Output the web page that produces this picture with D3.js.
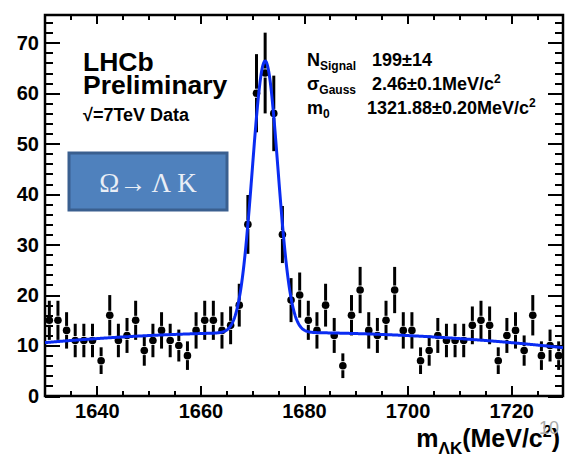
<!DOCTYPE html>
<html>
<head>
<meta charset="utf-8">
<script src="https://cdn.jsdelivr.net/npm/d3@7"></script>
<style>
  body { margin: 0; background: #fff; }
  svg { display: block; }
  .axis path, .axis line { stroke: #000; stroke-width: 2; shape-rendering: crispEdges; }
  .axis text { font-family: "Liberation Sans", Arial, sans-serif; font-weight: bold; font-size: 20px; fill: #000; }
</style>
</head>
<body>
<script>
// Histogram of m(ΛK): 60 bins from 1630 to 1730 MeV/c²
const massLow = 1630;
const massHigh = 1730;
const binCount = 60;
const counts = [15, 15, 13, 11, 11, 11, 7, 16, 11, 12,
                15, 9, 11, 13, 11, 10, 8, 13, 15, 15,
                13, 14, 18, 34, 60, 64, 56, 32, 19, 20,
                15, 13, 18, 12, 6, 16, 21, 13, 12, 15,
                21, 13, 13, 7, 9, 12, 11, 11, 11, 14,
                15, 14, 7, 12, 13, 9, 16, 8, 10, 8];

// Axis ticks
const xTicks = [1640, 1660, 1680, 1700, 1720];
const yTicks = [0, 10, 20, 30, 40, 50, 60, 70];

// Fit model: Gaussian signal plus quadratic background
const sigYield = 199;
const sigWidth = 2.46;
const sigMean = 1672.5;
const bgPivot = 1675;
const bgCoef = [12.6, 0, -0.001];

// Fit result lines
const fitLines = [
  { sym: "N", sub: "Signal", val: "199±14", sup: "" },
  { sym: "σ", sub: "Gauss", val: "2.46±0.1MeV/c", sup: "2" },
  { sym: "m", sub: "0", val: "1321.88±0.20MeV/c", sup: "2" }
];

const W = 565, H = 459;
const svg = d3.select("body").append("svg").attr("width", W).attr("height", H);
svg.append("rect").attr("width", W).attr("height", H).attr("fill", "#fff");

const x = d3.scaleLinear().domain([massLow, massHigh]).range([45, 563]);
const y = d3.scaleLinear().domain([0, 75.5]).range([396, 15]);

const binWidth = (massHigh - massLow) / binCount;
const bins = counts.map((c, i) => ({ m: massLow + (i + 0.5) * binWidth, n: c, e: Math.sqrt(c) }));

const xMinor = d3.range(1635, 1730, 5).filter(v => v % 20 !== 0);
const yMinor = d3.range(2, 76, 2).filter(v => v % 10 !== 0);

function styleAxis(g) { g.attr("class", "axis"); g.select(".domain").remove(); }

// bottom axis
svg.append("g").attr("transform", `translate(0,${y(0)})`)
  .call(d3.axisBottom(x).tickValues(xMinor).tickSizeInner(-5).tickSizeOuter(0).tickFormat(""))
  .call(styleAxis);
svg.append("g").attr("transform", `translate(0,${y(0)})`)
  .call(d3.axisBottom(x).tickValues(xTicks).tickSizeInner(-10).tickSizeOuter(0).tickPadding(8).tickFormat(d3.format("d")))
  .call(styleAxis);
// top axis (ticks only)
svg.append("g").attr("transform", `translate(0,${y.range()[1]})`)
  .call(d3.axisTop(x).tickValues(xMinor).tickSizeInner(-5).tickSizeOuter(0).tickFormat(""))
  .call(styleAxis);
svg.append("g").attr("transform", `translate(0,${y.range()[1]})`)
  .call(d3.axisTop(x).tickValues(xTicks).tickSizeInner(-9).tickSizeOuter(0).tickFormat(""))
  .call(styleAxis);
// left axis
svg.append("g").attr("transform", `translate(${x.range()[0]},0)`)
  .call(d3.axisLeft(y).tickValues(yMinor).tickSizeInner(-8).tickSizeOuter(0).tickFormat(""))
  .call(styleAxis);
svg.append("g").attr("transform", `translate(${x.range()[0]},0)`)
  .call(d3.axisLeft(y).tickValues(yTicks).tickSizeInner(-15).tickSizeOuter(0).tickPadding(6).tickFormat(d3.format("d")))
  .call(styleAxis);
// right axis (ticks only)
svg.append("g").attr("transform", `translate(${x.range()[1]},0)`)
  .call(d3.axisRight(y).tickValues(yMinor).tickSizeInner(-8).tickSizeOuter(0).tickFormat(""))
  .call(styleAxis);
svg.append("g").attr("transform", `translate(${x.range()[1]},0)`)
  .call(d3.axisRight(y).tickValues(yTicks).tickSizeInner(-15).tickSizeOuter(0).tickFormat(""))
  .call(styleAxis);

// frame
svg.append("rect")
  .attr("x", x.range()[0]).attr("y", y.range()[1])
  .attr("width", x.range()[1] - x.range()[0]).attr("height", y.range()[0] - y.range()[1])
  .attr("fill", "none").attr("stroke", "#000").attr("stroke-width", 2.5);

// data points with error bars (bars stop short of the marker)
const gap = 4.5;
const pts = svg.append("g");
pts.selectAll("line.up").data(bins).join("line")
  .attr("x1", d => x(d.m)).attr("x2", d => x(d.m))
  .attr("y1", d => y(d.n + d.e)).attr("y2", d => y(d.n) - gap)
  .attr("stroke", "#000").attr("stroke-width", 3);
pts.selectAll("line.dn").data(bins).join("line")
  .attr("x1", d => x(d.m)).attr("x2", d => x(d.m))
  .attr("y1", d => y(d.n) + gap).attr("y2", d => Math.min(y(d.n - d.e), y(0)))
  .attr("stroke", "#000").attr("stroke-width", 3);
pts.selectAll("circle").data(bins).join("circle")
  .attr("cx", d => x(d.m)).attr("cy", d => y(d.n)).attr("r", 3.8).attr("fill", "#000");

// fit curve
const gaussNorm = sigYield * binWidth / (sigWidth * Math.sqrt(2 * Math.PI));
function fitValue(m) {
  const t = m - bgPivot;
  const bg = bgCoef[0] + bgCoef[1] * t + bgCoef[2] * t * t;
  const z = (m - sigMean) / sigWidth;
  return bg + gaussNorm * Math.exp(-0.5 * z * z);
}
const curveMass = d3.range(massLow, massHigh + 0.001, 0.1);
svg.append("path")
  .datum(curveMass)
  .attr("d", d3.line().x(m => x(m)).y(m => y(fitValue(m))))
  .attr("fill", "none").attr("stroke", "#0a2cf2").attr("stroke-width", 3);

// axis title
const sans = '"Liberation Sans", Arial, sans-serif';
const title = svg.append("text")
  .attr("x", 560).attr("y", 447).attr("text-anchor", "end")
  .attr("font-family", sans).attr("font-weight", "bold").attr("font-size", 25).attr("fill", "#000");
title.append("tspan").text("m");
title.append("tspan").attr("font-size", 17).attr("dy", 7).text("ΛK");
title.append("tspan").attr("dy", -7).text("(MeV/c");
title.append("tspan").attr("font-size", 16).attr("dy", -10).text("2");
title.append("tspan").attr("dy", 10).text(")");

// page number
svg.append("text").attr("x", 549).attr("y", 434).attr("text-anchor", "middle")
  .attr("font-family", sans).attr("font-size", 18).attr("fill", "#a9a9a9").text("10");

// experiment label
svg.append("text").attr("x", 83).attr("y", 71)
  .attr("font-family", sans).attr("font-weight", "bold").attr("font-size", 26.5).text("LHCb");
svg.append("text").attr("x", 83).attr("y", 94)
  .attr("font-family", sans).attr("font-weight", "bold").attr("font-size", 26.5).text("Preliminary");
svg.append("text").attr("x", 83).attr("y", 121)
  .attr("font-family", sans).attr("font-weight", "bold").attr("font-size", 18).text("√=7TeV Data");

// decay channel box
svg.append("rect").attr("x", 69).attr("y", 153).attr("width", 158).attr("height", 57)
  .attr("fill", "#4f81bd").attr("stroke", "#3a5f8f").attr("stroke-width", 3);
svg.append("text").attr("x", 148).attr("y", 192).attr("text-anchor", "middle")
  .attr("font-family", '"Liberation Serif", "Times New Roman", serif').attr("font-size", 27)
  .attr("fill", "#e9eef6").text("Ω→ Λ K");

// fit results
fitLines.forEach((r, i) => {
  const yb = 66 + i * 24;
  const t = svg.append("text").attr("x", 307).attr("y", yb)
    .attr("font-family", sans).attr("font-weight", "bold").attr("font-size", 18);
  t.append("tspan").text(r.sym);
  t.append("tspan").attr("font-size", 12).attr("dy", 4).text(r.sub);
  const v = svg.append("text").attr("x", i === 2 ? 367 : 372).attr("y", yb)
    .attr("font-family", sans).attr("font-weight", "bold").attr("font-size", 18);
  v.append("tspan").text(r.val);
  if (r.sup) v.append("tspan").attr("font-size", 12).attr("dy", -7).text(r.sup);
});
</script>
</body>
</html>
